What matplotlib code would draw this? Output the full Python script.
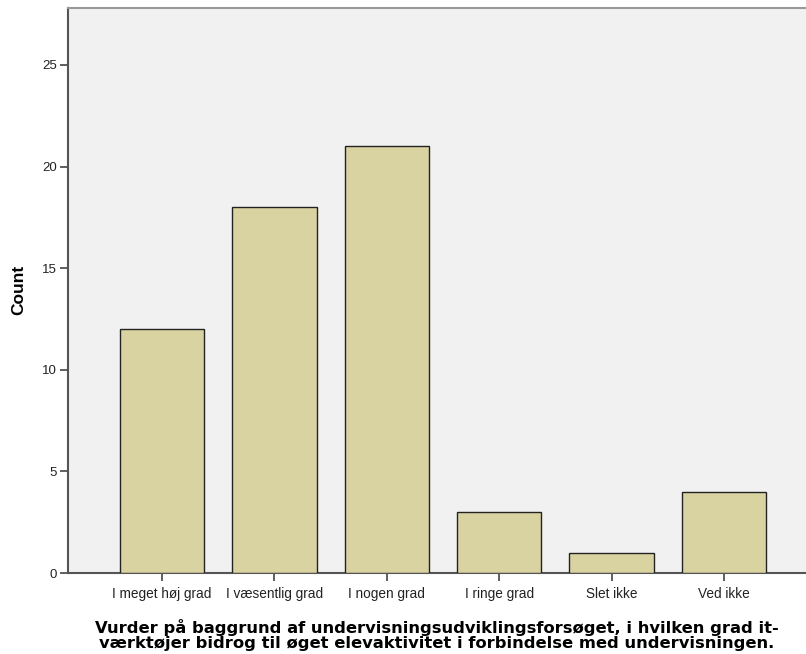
import matplotlib
matplotlib.use("Agg")
import matplotlib.pyplot as plt

categories = ["I meget høj grad", "I væsentlig grad", "I nogen grad", "I ringe grad", "Slet ikke", "Ved ikke"]
counts = [12, 18, 21, 3, 1, 4]
yticks = [0, 5, 10, 15, 20, 25]

fig = plt.figure(figsize=(8.06, 6.54), dpi=100)
ax = fig.add_axes([68/806, 1-573/654, 1-68/806, (573-8)/654])
ax.set_facecolor("#F1F1F1")
x = list(range(len(categories)))
ax.bar(x, counts, width=0.75, color="#D9D3A1", edgecolor="#222222", linewidth=1.0, zorder=3)
ax.set_xlim(-0.837, 5.73)
ax.set_ylim(0, 27.8)
ax.set_yticks(yticks)
ax.set_yticklabels([str(v) for v in yticks], fontfamily="Liberation Sans", fontsize=9.5, color="#222222")
ax.set_xticks(x)
ax.set_xticklabels(categories, fontfamily="Liberation Sans", fontsize=9.8, color="#222222")
ax.tick_params(axis="both", direction="out", length=6, width=1.2, color="#444444", pad=2)
ax.tick_params(axis="x", pad=4)
for s in ["left", "bottom"]:
    ax.spines[s].set_color("#555555")
    ax.spines[s].set_linewidth(1.5)
ax.spines["top"].set_color("#999999")
ax.spines["top"].set_linewidth(1.5)
ax.spines["right"].set_visible(False)
ax.set_ylabel("Count", fontfamily="Liberation Sans", fontweight="bold", fontsize=12.5, va="center")
ax.yaxis.set_label_coords(-(68-19)/(806-68), (573-290)/565)
ax.set_xlabel("Vurder på baggrund af undervisningsudviklingsforsøget, i hvilken grad it-\nværktøjer bidrog til øget elevaktivitet i forbindelse med undervisningen.",
              fontfamily="DejaVu Sans", fontweight="bold", fontsize=11.8, linespacing=1.02,
              va="center")
ax.xaxis.set_label_coords((437-68)/(806-68), -(635-573)/565)
fig.savefig("out.png", dpi=100)
